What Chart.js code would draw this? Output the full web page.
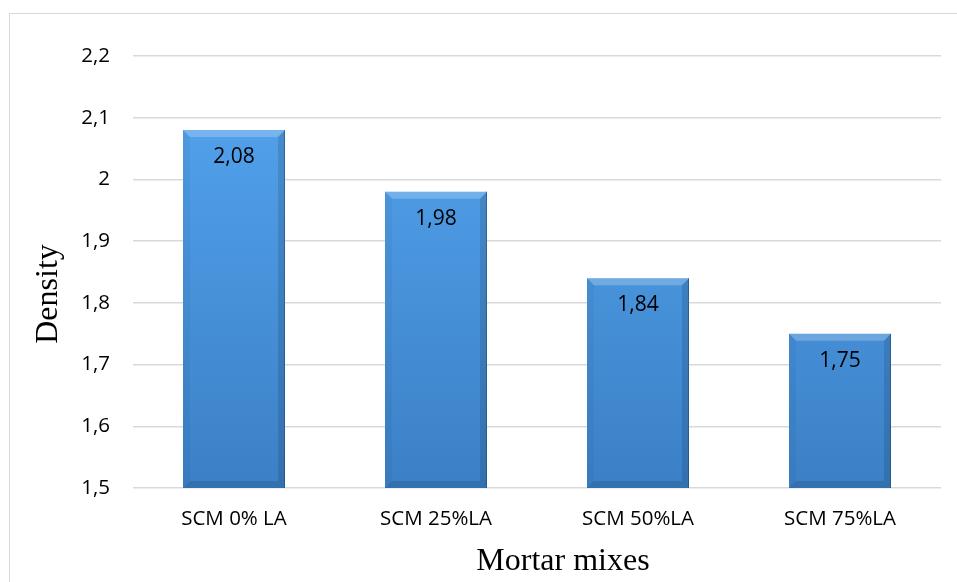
<!DOCTYPE html>
<html>
<head>
<meta charset="utf-8">
<script src="https://cdn.jsdelivr.net/npm/chart.js@4/dist/chart.umd.min.js"></script>
<style>
  html, body { margin: 0; background: #fff; }
  #wrap { position: relative; width: 957px; height: 582px; overflow: hidden; }
  #frame { position: absolute; left: 9px; top: 13px; width: 980px; height: 620px; border: 1.5px solid #d9d9d9; box-sizing: border-box; }
  canvas { position: absolute; left: 0; top: 0; }
</style>
</head>
<body>
<div id="wrap">
  <div id="frame"></div>
  <canvas id="densityChart" width="957" height="582"></canvas>
</div>
<script>
// --- data ---
const categories = ['SCM 0% LA', 'SCM 25%LA', 'SCM 50%LA', 'SCM 75%LA'];
const densities = [2.08, 1.98, 1.84, 1.75];
const yMin = 1.5;
const yMax = 2.2;
const yStep = 0.1;

const xTitle = 'Mortar mixes';
const yTitle = 'Density';

// comma decimals, like the original
const fmt = v => String(Math.round(v * 100) / 100).replace('.', ',');

// vertical gradient for the bars
function barFill(ctx) {
    const area = ctx.chart.chartArea;
    if (!area) return '#4a9be8';
    const g = ctx.chart.ctx.createLinearGradient(0, area.top, 0, area.bottom);
    g.addColorStop(0, '#55a6f0');
    g.addColorStop(1, '#3b80c6');
    return g;
}

// bevel look on each bar + value labels inside the top
const bevelPlugin = {
    id: 'bevel',
    afterDatasetsDraw(chart) {
        const c = chart.ctx;
        const area = chart.chartArea;
        const meta = chart.getDatasetMeta(0);
        meta.data.forEach((el, i) => {
            const x0 = el.x - el.width / 2, x1 = el.x + el.width / 2;
            const y0 = el.y, y1 = Math.min(el.base, area.bottom);
            const b = 7;
            c.save();
            const poly = (pts, fill) => {
                c.beginPath();
                c.moveTo(pts[0][0], pts[0][1]);
                pts.slice(1).forEach(p => c.lineTo(p[0], p[1]));
                c.closePath();
                c.fillStyle = fill;
                c.fill();
            };
            poly([[x0, y0], [x1, y0], [x1 - b, y0 + b], [x0 + b, y0 + b]], 'rgba(255,255,255,0.22)');
            poly([[x1, y0], [x1, y1], [x1 - b, y1 - b], [x1 - b, y0 + b]], 'rgba(0,0,0,0.12)');
            poly([[x0, y0], [x0 + b, y0 + b], [x0 + b, y1 - b], [x0, y1]], 'rgba(0,0,0,0.04)');
            poly([[x0, y1], [x0 + b, y1 - b], [x1 - b, y1 - b], [x1, y1]], 'rgba(0,0,0,0.12)');
            c.strokeStyle = 'rgba(30,70,120,0.55)';
            c.lineWidth = 1;
            c.beginPath();
            c.moveTo(x1 - 0.5, y0);
            c.lineTo(x1 - 0.5, y1);
            c.stroke();

            c.fillStyle = '#000';
            c.font = '21px "Open Sans", sans-serif';
            c.textAlign = 'center';
            c.textBaseline = 'middle';
            c.fillText(fmt(densities[i]), el.x, y0 + 27);
            c.restore();
        });
    },
    afterDraw(chart) {
        const c = chart.ctx;
        const a = chart.chartArea;
        c.save();
        c.fillStyle = '#000';
        c.font = '32px "Liberation Serif", "Times New Roman", serif';
        c.textAlign = 'center';
        c.textBaseline = 'middle';
        c.fillText(xTitle, (a.left + a.right) / 2 + 26, a.bottom + 74);
        c.translate(a.left - 84, (a.top + a.bottom) / 2 + 22);
        c.rotate(-Math.PI / 2);
        c.fillText(yTitle, 0, 0);
        c.restore();
    }
};

new Chart(document.getElementById('densityChart'), {
    type: 'bar',
    data: {
        labels: categories,
        datasets: [{
            data: densities,
            backgroundColor: barFill,
            borderWidth: 0,
            categoryPercentage: 1,
            barPercentage: 0.505
        }]
    },
    options: {
        responsive: false,
        animation: false,
        layout: { padding: { top: 56, right: 16, left: 0, bottom: 0 } },
        plugins: {
            legend: { display: false },
            tooltip: { enabled: false }
        },
        scales: {
            x: {
                grid: { display: false, drawTicks: false },
                border: { display: false },
                ticks: {
                    color: '#000',
                    padding: 19,
                    font: { family: '"Open Sans", sans-serif', size: 20.5 }
                },
                afterFit: a => { a.height = 94; }
            },
            y: {
                min: yMin,
                max: yMax,
                grid: { color: '#d9d9d9', lineWidth: 1.5, drawTicks: false },
                border: { display: false },
                ticks: {
                    stepSize: yStep,
                    color: '#000',
                    padding: 23,
                    font: { family: '"Open Sans", sans-serif', size: 20.5 },
                    callback: v => fmt(v)
                },
                afterFit: a => { a.width = 133; }
            }
        }
    },
    plugins: [bevelPlugin]
});
</script>
</body>
</html>
